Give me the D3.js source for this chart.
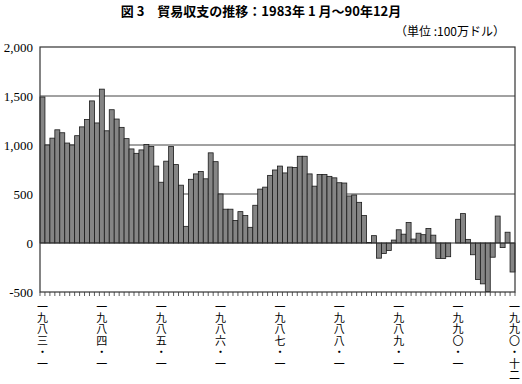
<!DOCTYPE html>
<html lang="ja">
<head>
<meta charset="UTF-8">
<title>図3 貿易収支の推移</title>
<script src="https://d3js.org/d3.v7.min.js"></script>
<style>
  body { margin: 0; background: #fff; }
  .title { font-family: "Noto Sans CJK JP", sans-serif; font-weight: bold; font-size: 13px; }
  .unit { font-family: "Noto Sans CJK JP", sans-serif; font-size: 12px; }
  .ytick { font-family: "Liberation Serif", "DejaVu Serif", serif; font-size: 13px; }
  .xlab { font-family: "Noto Sans CJK JP", sans-serif; font-size: 11px; writing-mode: vertical-rl; letter-spacing: 0.4px; }
</style>
</head>
<body>
<svg id="chart" width="522" height="384"></svg>
<script>
// monthly trade balance, Jan 1983 - Dec 1990 (million dollars)
const y1983 = [1490, 1000, 1070, 1155, 1125, 1020, 1000, 1095, 1185, 1260, 1450, 1225];
const y1984 = [1570, 1145, 1360, 1265, 1180, 1065, 960, 915, 950, 1005, 985, 785];
const y1985 = [620, 835, 985, 800, 590, 170, 650, 705, 730, 655, 920, 830];
const y1986 = [500, 345, 345, 230, 320, 280, 160, 385, 550, 570, 690, 745];
const y1987 = [785, 715, 775, 770, 885, 885, 705, 580, 700, 700, 680, 665];
const y1988 = [615, 612, 480, 490, 415, 280, 5, 75, -155, -108, -77, 30];
const y1989 = [135, 90, 210, 40, 100, 85, 148, 80, -158, -158, -140, 0];
const y1990 = [242, 300, 37, -120, -373, -417, -495, -145, 275, -47, 110, -296];
const values = [].concat(y1983, y1984, y1985, y1986, y1987, y1988, y1989, y1990);

const yTicks = [-500, 0, 500, 1000, 1500, 2000];
const gridLines = [500, 1000, 1500];
// label position (month index) and vertical text
const xLabels = [
  { i: 0,  text: "一九八三・一" },
  { i: 12, text: "一九八四・一" },
  { i: 24, text: "一九八五・一" },
  { i: 36, text: "一九八六・一" },
  { i: 48, text: "一九八七・一" },
  { i: 60, text: "一九八八・一" },
  { i: 72, text: "一九八九・一" },
  { i: 84, text: "一九九〇・一" },
  { i: 95, text: "一九九〇・十二" }
];

const svg = d3.select("#chart");
const plotLeft = 40, plotRight = 515, plotTop = 47, plotBottom = 292;

const x = d3.scaleBand().domain(d3.range(values.length)).range([plotLeft, plotRight]).padding(0);
const y = d3.scaleLinear().domain([-500, 2000]).range([plotBottom, plotTop]);

svg.append("text").attr("class", "title")
  .attr("x", 261).attr("y", 16).attr("text-anchor", "middle")
  .text("図 3　貿易収支の推移：1983年 1 月～90年12月");

svg.append("text").attr("class", "unit")
  .attr("x", 505).attr("y", 36).attr("text-anchor", "end")
  .text("（単位 :100万ドル）");

// gridlines
svg.selectAll(".grid").data(gridLines).enter().append("line")
  .attr("x1", plotLeft).attr("x2", plotRight)
  .attr("y1", d => y(d)).attr("y2", d => y(d))
  .attr("stroke", "#444").attr("stroke-width", 1);

// bars
svg.selectAll(".bar").data(values).enter().append("rect")
  .attr("x", (d, i) => x(i))
  .attr("width", x.bandwidth())
  .attr("y", d => y(Math.max(0, d)))
  .attr("height", d => Math.abs(y(d) - y(0)))
  .attr("fill", "#858585")
  .attr("stroke", "#1a1a1a")
  .attr("stroke-width", 0.8);

// zero line
svg.append("line")
  .attr("x1", plotLeft).attr("x2", plotRight)
  .attr("y1", y(0)).attr("y2", y(0))
  .attr("stroke", "#333").attr("stroke-width", 1.2);

// frame
svg.append("rect")
  .attr("x", plotLeft).attr("y", plotTop)
  .attr("width", plotRight - plotLeft).attr("height", plotBottom - plotTop)
  .attr("fill", "none").attr("stroke", "#333").attr("stroke-width", 1.2);

// y tick labels
svg.selectAll(".ytick").data(yTicks).enter().append("text")
  .attr("class", "ytick")
  .attr("x", 33).attr("y", d => y(d)).attr("dy", "0.35em")
  .attr("text-anchor", "end")
  .text(d => d3.format(",")(d).replace("−", "-"));

// month ticks on the bottom edge
svg.selectAll(".mtick").data(d3.range(values.length + 1)).enter().append("line")
  .attr("x1", i => plotLeft + i * x.step()).attr("x2", i => plotLeft + i * x.step())
  .attr("y1", plotBottom).attr("y2", plotBottom + 4)
  .attr("stroke", "#333").attr("stroke-width", 0.8);

// vertical x labels
svg.selectAll(".xlab").data(xLabels).enter().append("text")
  .attr("class", "xlab")
  .attr("x", d => x(d.i) + x.bandwidth() / 2 + (d.i === 95 ? 2 : 0))
  .attr("y", 301)
  .text(d => d.text);
</script>
</body>
</html>
